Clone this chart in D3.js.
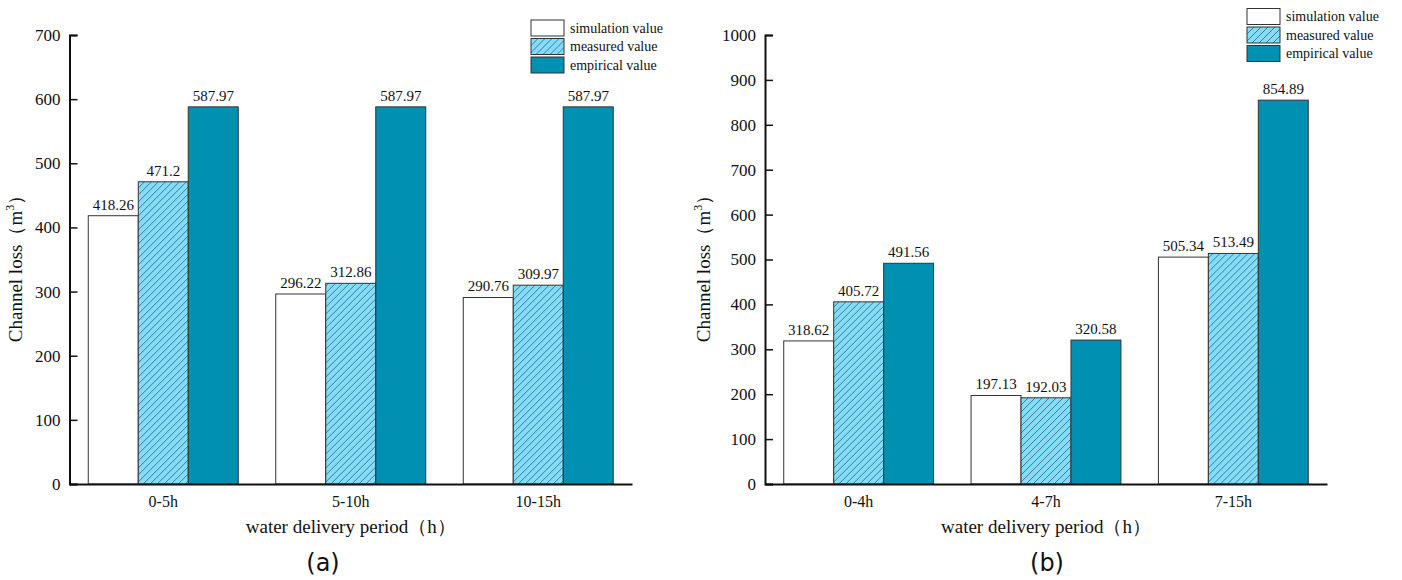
<!DOCTYPE html>
<html>
<head>
<meta charset="utf-8">
<script src="https://cdn.jsdelivr.net/npm/d3@7"></script>
<style>
  body { margin: 0; background: #fff; }
  text { font-family: "Liberation Serif", "Times New Roman", serif; fill: #111; }
</style>
</head>
<body>
<div id="root"></div>
<script>
// panel (a)
var catsA = ["0-5h", "5-10h", "10-15h"];
var simA = [418.26, 296.22, 290.76];
var measA = [471.2, 312.86, 309.97];
var empA = [587.97, 587.97, 587.97];
var ticksA = [0, 100, 200, 300, 400, 500, 600, 700];

// panel (b)
var catsB = ["0-4h", "4-7h", "7-15h"];
var simB = [318.62, 197.13, 505.34];
var measB = [405.72, 192.03, 513.49];
var empB = [491.56, 320.58, 854.89];
var ticksB = [0, 100, 200, 300, 400, 500, 600, 700, 800, 900, 1000];

var seriesNames = ["simulation value", "measured value", "empirical value"];

var svg = d3.select("#root")
    .append("svg")
    .attr("width", 1402)
    .attr("height", 580);

// hatch for measured bars, "/" lines
var defs = svg.append("defs");
var pat = defs.append("pattern")
    .attr("id", "hatch")
    .attr("patternUnits", "userSpaceOnUse")
    .attr("width", 7)
    .attr("height", 7);
pat.append("rect").attr("width", 7).attr("height", 7).attr("fill", "#82ddfc");
pat.append("path")
    .attr("d", "M0,7 L7,0 M-1,1 L1,-1 M6,8 L8,6")
    .attr("stroke", "#2a4a55").attr("stroke-width", 0.7);

var fills = ["#ffffff", "url(#hatch)", "#0090b2"];

function draw(o) {
    var g = svg.append("g");
    var x = d3.scaleBand()
        .domain(o.cats)
        .range([o.x0, o.x1])
        .paddingInner(0.2)
        .paddingOuter(0.1);
    var x1 = d3.scaleBand()
        .domain([0, 1, 2])
        .range([0, x.bandwidth()]);
    var y = d3.scaleLinear()
        .domain([0, o.ticks[o.ticks.length - 1]])
        .range([484, 35]);

    var rows = o.cats.map(function (c, i) {
        return { cat: c, vals: [o.sim[i], o.meas[i], o.emp[i]] };
    });

    var grp = g.selectAll(".grp")
        .data(rows)
        .enter()
        .append("g")
        .attr("transform", function (d) { return "translate(" + x(d.cat) + ",0)"; });

    grp.selectAll("rect")
        .data(function (d) { return d.vals; })
        .enter()
        .append("rect")
        .attr("x", function (d, i) { return x1(i); })
        .attr("y", function (d) { return y(d); })
        .attr("width", x1.bandwidth())
        .attr("height", function (d) { return y(0) - y(d); })
        .attr("fill", function (d, i) { return fills[i]; })
        .attr("stroke", "#333")
        .attr("stroke-width", 1);

    grp.selectAll("text")
        .data(function (d) { return d.vals; })
        .enter()
        .append("text")
        .text(function (d) { return d; })
        .attr("x", function (d, i) { return x1(i) + x1.bandwidth() / 2; })
        .attr("y", function (d) { return y(d) - 6; })
        .attr("text-anchor", "middle")
        .style("font-size", "15px");

    // y axis, ticks inside
    var ya = g.append("g")
        .attr("transform", "translate(" + o.x0 + ",0)")
        .call(d3.axisRight(y).tickValues(o.ticks).tickSize(8).tickFormat(""));
    ya.select(".domain").attr("stroke", "#111").attr("stroke-width", 2);
    ya.selectAll(".tick line").attr("stroke", "#111").attr("stroke-width", 1.5);

    g.selectAll(".ylab")
        .data(o.ticks)
        .enter()
        .append("text")
        .attr("x", o.x0 - 9)
        .attr("y", function (d) { return y(d); })
        .attr("dy", "0.35em")
        .attr("text-anchor", "end")
        .style("font-size", "17px")
        .text(function (d) { return d; });

    // x axis, no ticks
    var xa = g.append("g")
        .attr("transform", "translate(0," + y(0) + ")")
        .call(d3.axisBottom(x).tickSize(0).tickPadding(12).tickSizeOuter(0));
    xa.select(".domain").attr("stroke", "#111").attr("stroke-width", 2);
    xa.selectAll("text")
        .style("font-family", "Liberation Serif, serif")
        .style("font-size", "16px")
        .attr("fill", "#111");

    // axis titles
    var yt = g.append("text")
        .attr("transform", "translate(" + o.ytx + ",264) rotate(-90)")
        .attr("text-anchor", "middle")
        .style("font-size", "19px");
    yt.append("tspan").text("Channel loss（m");
    yt.append("tspan").attr("dy", -8).style("font-size", "12px").text("3");
    yt.append("tspan").attr("dy", 8).text("）");

    g.append("text")
        .attr("x", (o.x0 + o.x1) / 2)
        .attr("y", 533)
        .attr("text-anchor", "middle")
        .style("font-size", "19px")
        .text("water delivery period（h）");

    g.append("text")
        .attr("x", o.tagx)
        .attr("y", 571)
        .attr("text-anchor", "middle")
        .style("font-family", "DejaVu Sans, sans-serif")
        .style("font-size", "24px")
        .text(o.tag);

    // legend
    var lg = g.selectAll(".leg")
        .data(seriesNames)
        .enter()
        .append("g")
        .attr("transform", function (d, i) { return "translate(" + o.lx + "," + (o.ly + i * 18.5) + ")"; });
    lg.append("rect")
        .attr("width", 33)
        .attr("height", 16)
        .attr("fill", function (d, i) { return fills[i]; })
        .attr("stroke", "#333")
        .attr("stroke-width", 1);
    lg.append("text")
        .attr("x", 39)
        .attr("y", 8)
        .attr("dy", "0.35em")
        .style("font-size", "14px")
        .text(function (d) { return d; });
}

draw({ cats: catsA, sim: simA, meas: measA, emp: empA, ticks: ticksA,
       x0: 69.5, x1: 632, ytx: 22, tagx: 323, tag: "(a)", lx: 531, ly: 20 });
draw({ cats: catsB, sim: simB, meas: measB, emp: empB, ticks: ticksB,
       x0: 765, x1: 1327, ytx: 710, tagx: 1047, tag: "(b)", lx: 1247, ly: 8.5 });
</script>
</body>
</html>
